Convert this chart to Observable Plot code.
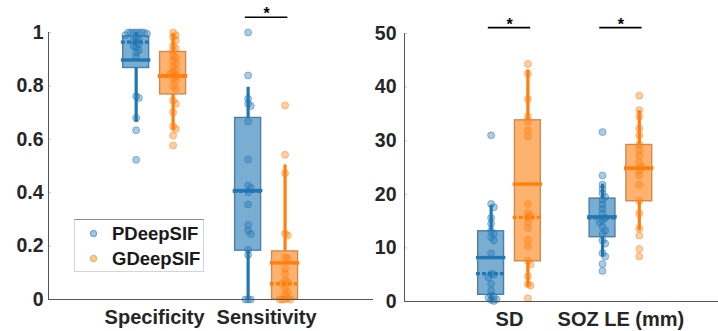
<!DOCTYPE html>
<html><head><meta charset="utf-8">
<script src="https://cdn.jsdelivr.net/npm/d3@7"></script>
<script src="https://cdn.jsdelivr.net/npm/@observablehq/plot@0.6"></script>
<style>
body{margin:0;background:#fff;}
#wrap{position:relative;width:718px;height:331px;font-family:"Liberation Sans",Arial,sans-serif;}
#left{position:absolute;left:0;top:0;}
#right{position:absolute;left:372px;top:0;}
.legend{position:absolute;left:74px;top:219px;width:130px;height:53px;border:1px solid #d4d4d4;border-top-color:#8c8c8c;background:#fff;box-sizing:border-box;}
.legend .item{position:absolute;left:0;height:20px;font-weight:bold;font-size:18.5px;color:#1a1a1a;line-height:20px;}
.legend .mk{position:absolute;left:15px;top:6px;width:7px;height:7px;border-radius:50%;box-sizing:border-box;}
.legend .lb{position:absolute;left:37px;top:0;white-space:nowrap;}
</style></head>
<body><div id="wrap"><div id="left"></div><div id="right"></div></div>
<script>
// ---------- data ----------
const categoriesLeft = ["Specificity", "Sensitivity"];
const categoriesRight = ["SD", "SOZ LE (mm)"];
const methods = ["PDeepSIF", "GDeepSIF"];
const ticksLeft = [0, 0.2, 0.4, 0.6, 0.8, 1];
const ticksRight = [0, 10, 20, 30, 40, 50];

const specificityP = [1, 1, 1, 1, 1, 1, 1, 0.995, 0.99, 0.982, 0.975, 0.97, 0.965, 0.957, 0.95, 0.945, 0.933, 0.925, 0.908, 0.761, 0.755, 0.68, 0.634, 0.523];
const specificityG = [1.0, 0.99, 0.982, 0.97, 0.951, 0.94, 0.933, 0.914, 0.905, 0.895, 0.883, 0.87, 0.86, 0.851, 0.845, 0.839, 0.83, 0.82, 0.80, 0.789, 0.745, 0.733, 0.701, 0.648, 0.639, 0.614, 0.577];
const sensitivityP = [1.0, 0.839, 0.752, 0.733, 0.725, 0.667, 0.524, 0.427, 0.418, 0.402, 0.356, 0.28, 0.258, 0.245, 0.186, 0.167, 0, 0, 0];
const sensitivityG = [0.727, 0.542, 0.473, 0.247, 0.24, 0.158, 0.154, 0.115, 0.096, 0.071, 0.064, 0.06, 0.04, 0.028, 0.016, 0.005, 0, 0, 0, 0];
const sdP = [31.0, 18.2, 17.6, 15.6, 14.5, 13.2, 12.6, 12.0, 11.4, 9.0, 5.2, 5.0, 4.5, 3.3, 2.0, 1.1, 0.9, 0.7, 0.4, 0.3, 0.1];
const sdG = [44.3, 42.5, 37.8, 34.5, 33.6, 32.0, 30.8, 18.2, 16.5, 16.0, 15.7, 14.8, 13.7, 11.5, 10.3, 7.6, 6.9, 4.7, 3.2, 3.0, 0.6];
const sozP = [31.6, 23.5, 21.8, 21.0, 20.2, 19.5, 19.0, 18.1, 17.3, 16.4, 15.6, 15.2, 14.8, 13.9, 13.2, 12.6, 11.4, 10.8, 9.0, 8.4, 7.0, 5.7];
const sozG = [38.4, 35.7, 34.5, 32.3, 31.0, 29.3, 28.3, 27.2, 25.9, 25.1, 24.4, 23.5, 21.8, 18.8, 16.4, 13.6, 12.3, 9.8, 8.4];

// box statistics, order: [cat1 P, cat1 G, cat2 P, cat2 G]
const leftQ1 = [0.867, 0.768, 0.183, 0];
const leftQ3 = [0.985, 0.927, 0.68, 0.18];
const leftMean = [0.897, 0.838, 0.408, 0.137];
const leftMedian = [0.964, 0.836, 0.405, 0.059];
const leftLow = [0.663, 0.632, 0, 0];
const leftHigh = [1.0, 0.995, 0.795, 0.504];
const rightQ1 = [1.25, 7.5, 12.0, 18.7];
const rightQ3 = [13.1, 33.8, 19.2, 29.2];
const rightMean = [8.2, 21.9, 15.8, 24.9];
const rightMedian = [5.2, 15.7, 15.6, 24.8];
const rightLow = [0, 2.7, 8.3, 13.2];
const rightHigh = [17.9, 43.2, 21.9, 35.6];

const leftSignificant = ["Sensitivity"];
const rightSignificant = ["SD", "SOZ LE (mm)"];

// ---------- styling ----------
const fills = ["#1f77b4", "#ff7f0e"];
const edges = ["#4d7ea8", "#cf8a52"];
const FONT = "'Liberation Sans', Arial, sans-serif";
const GROUP_OFF = 0.165, BOX_HALF = 0.116, LINE_HALF = 0.132, SIG_HALF = 0.19;

function swarm(values, center, span, step) {
  const order = d3.range(values.length).sort((a, b) => d3.descending(values[a], values[b]));
  const placed = [];
  const out = new Array(values.length);
  const cands = [0, 1, -1, 2, -2, 3, -3, 4, -4, 5, -5];
  for (const i of order) {
    const v = values[i];
    let off = 0;
    for (const c of cands) {
      const x = c * step;
      if (!placed.some(p => Math.abs(p.v - v) < 0.016 * span && Math.abs(p.x - x) < step * 0.9)) { off = x; break; }
    }
    placed.push({v, x: off});
    out[i] = {value: v, x: center + off};
  }
  return out;
}

function panel({categories, series, q1, q3, mean, median, low, high, ticks, width, marginLeft, marginTop, marginBottom, xDomain, sig, sigY, tickPadding}) {
  const yMax = ticks[ticks.length - 1];
  const rows = [];
  categories.forEach((c, ci) => methods.forEach((m, gi) => {
    const k = ci * 2 + gi;
    rows.push({cat: c, gi, xc: ci + 1 + (gi === 0 ? -GROUP_OFF : GROUP_OFF),
      q1: q1[k], q3: q3[k], mean: mean[k], median: median[k], low: low[k], high: high[k], values: series[k]});
  }));
  const marks = [
    Plot.axisY({ticks, tickSize: 0, tickPadding, tickFormat: d3.format("~g"), fontSize: 19.5, fontWeight: "bold"}),
    Plot.axisY({ticks, tickSize: -3, text: null, stroke: "#c8c8c8"}),
    Plot.axisX({ticks: [1, 2], tickSize: 0, tickPadding: 10, tickFormat: i => categories[i - 1], fontSize: 20, fontWeight: "bold"}),
  ];
  for (let gi = 0; gi < 2; gi++) {
    const r = rows.filter(d => d.gi === gi);
    marks.push(
      Plot.rectY(r, {x1: d => d.xc - BOX_HALF, x2: d => d.xc + BOX_HALF, y1: "q1", y2: "q3", fill: fills[gi], fillOpacity: 0.6, stroke: edges[gi], strokeWidth: 1.4}),
      Plot.ruleX(r, {x: "xc", y1: "q3", y2: "high", stroke: fills[gi], strokeWidth: 3.2}),
      Plot.ruleX(r, {x: "xc", y1: "low", y2: "q1", stroke: fills[gi], strokeWidth: 3.2}),
      Plot.ruleY(r, {y: "mean", x1: d => d.xc - LINE_HALF, x2: d => d.xc + LINE_HALF, stroke: fills[gi], strokeWidth: 3.4}),
      Plot.ruleY(r, {y: "median", x1: d => d.xc - LINE_HALF, x2: d => d.xc + LINE_HALF, stroke: fills[gi], strokeWidth: 3.4, strokeDasharray: "4,2"})
    );
  }
  for (let gi = 0; gi < 2; gi++) {
    const pts = rows.filter(d => d.gi === gi).flatMap(d => swarm(d.values, d.xc, yMax, 0.024));
    marks.push(Plot.dot(pts, {x: "x", y: "value", r: 3.5, fill: fills[gi], fillOpacity: 0.38, stroke: fills[gi], strokeOpacity: 0.45, strokeWidth: 1}));
  }
  marks.push(
    Plot.frame({anchor: "left", stroke: "#555"}),
    Plot.frame({anchor: "bottom", stroke: "#555"}),
    Plot.ruleY(sig, {y: () => sigY, x1: c => categories.indexOf(c) + 1 - SIG_HALF, x2: c => categories.indexOf(c) + 1 + SIG_HALF, stroke: "#000", strokeWidth: 1.6}),
    Plot.text(sig, {x: c => categories.indexOf(c) + 1, y: () => sigY, text: () => "*", dy: -3, fontSize: 16, fontWeight: "bold", fill: "#000"})
  );
  return Plot.plot({
    width, height: 331, marginLeft, marginRight: 0, marginTop, marginBottom,
    style: {fontFamily: FONT, fontSize: "19px", fontWeight: "bold", color: "#262626", background: "transparent", overflow: "visible"},
    x: {domain: xDomain},
    y: {domain: [0, yMax]},
    marks
  });
}

document.getElementById("left").append(panel({
  categories: categoriesLeft,
  series: [specificityP, specificityG, sensitivityP, sensitivityG],
  q1: leftQ1, q3: leftQ3, mean: leftMean, median: leftMedian, low: leftLow, high: leftHigh,
  ticks: ticksLeft, width: 372, marginLeft: 48, marginTop: 32, marginBottom: 32,
  xDomain: [0.052, 2.946], sig: leftSignificant, sigY: 1.057, tickPadding: 5
}));
document.getElementById("right").append(panel({
  categories: categoriesRight,
  series: [sdP, sdG, sozP, sozG],
  q1: rightQ1, q3: rightQ3, mean: rightMean, median: rightMedian, low: rightLow, high: rightHigh,
  ticks: ticksRight, width: 346, marginLeft: 32, marginTop: 33, marginBottom: 30,
  xDomain: [0.0575, 2.876], sig: rightSignificant, sigY: 51.1, tickPadding: 8
}));

// legend
const legend = document.createElement("div");
legend.className = "legend";
const lightFill = ["rgba(31,119,180,0.4)", "rgba(255,127,14,0.4)"];
const lightEdge = ["rgba(31,119,180,0.55)", "rgba(255,127,14,0.55)"];
methods.forEach((m, i) => {
  const item = document.createElement("div");
  item.className = "item";
  item.style.top = (i === 0 ? 4 : 29) + "px";
  const mk = document.createElement("span");
  mk.className = "mk";
  mk.style.background = lightFill[i];
  mk.style.border = "1px solid " + lightEdge[i];
  const lb = document.createElement("span");
  lb.className = "lb";
  lb.textContent = m;
  item.append(mk, lb);
  legend.append(item);
});
document.getElementById("wrap").append(legend);
</script>
</body></html>
